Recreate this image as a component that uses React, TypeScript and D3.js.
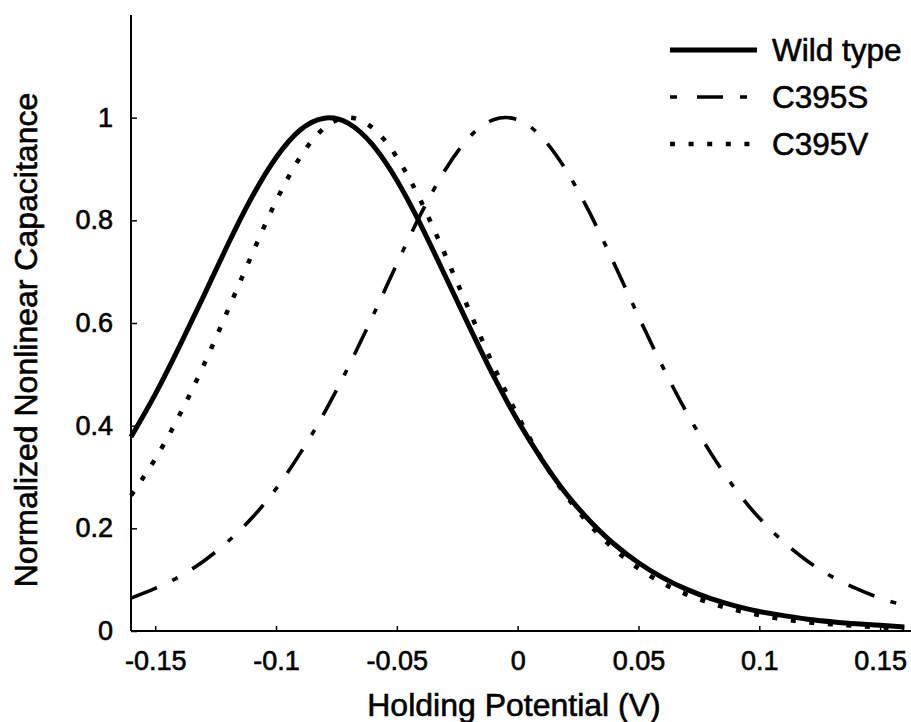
import React, { useEffect, useRef } from 'react';
import * as d3 from 'd3';

// holding potential (V), sampled every 10 mV
const potentials = [
  -0.16, -0.15, -0.14, -0.13, -0.12, -0.11, -0.1, -0.09, -0.08, -0.07, -0.06,
  -0.05, -0.04, -0.03, -0.02, -0.01, 0, 0.01, 0.02, 0.03, 0.04, 0.05, 0.06,
  0.07, 0.08, 0.09, 0.1, 0.11, 0.12, 0.13, 0.14, 0.15, 0.16,
];

const wildType = [
  0.378, 0.461, 0.554, 0.652, 0.752, 0.845, 0.922, 0.976, 0.999, 0.989, 0.947,
  0.878, 0.79, 0.692, 0.593, 0.497, 0.41, 0.334, 0.268, 0.214, 0.169, 0.133,
  0.104, 0.081, 0.063, 0.049, 0.038, 0.03, 0.023, 0.018, 0.014, 0.011, 0.008,
];

const c395s = [
  0.064, 0.083, 0.106, 0.136, 0.174, 0.22, 0.277, 0.346, 0.425, 0.515, 0.613,
  0.715, 0.813, 0.898, 0.962, 0.996, 0.996, 0.962, 0.898, 0.813, 0.715, 0.613,
  0.515, 0.425, 0.346, 0.277, 0.22, 0.174, 0.136, 0.106, 0.083, 0.064, 0.05,
];

const c395v = [
  0.264, 0.335, 0.42, 0.517, 0.624, 0.733, 0.837, 0.923, 0.98, 1.0, 0.98,
  0.923, 0.837, 0.733, 0.624, 0.517, 0.42, 0.335, 0.264, 0.206, 0.159, 0.122,
  0.093, 0.071, 0.054, 0.041, 0.031, 0.023, 0.017, 0.013, 0.01, 0.007, 0.006,
];

const seriesNames = ['Wild type', 'C395S', 'C395V'];
const xTicks = [-0.15, -0.1, -0.05, 0, 0.05, 0.1, 0.15];
const yTicks = [0, 0.2, 0.4, 0.6, 0.8, 1];

const FONT = "'Liberation Sans', Arial, Helvetica, sans-serif";

const App = () => {
  const ref = useRef<SVGSVGElement>(null);

  useEffect(() => {
    const svg = d3.select(ref.current);
    svg.selectAll('*').remove();

    const left = 131;
    const right = 904.3;
    const top = 15;
    const bottom = 631;

    const x = d3.scaleLinear().domain([-0.16, 0.16]).range([left, right]);
    const y = d3.scaleLinear().domain([0, 1.2]).range([bottom, top]);

    const styles = [
      { width: 5, dash: null },
      { width: 3.6, dash: '28,17,6,17' },
      { width: 4.5, dash: '5,13.6' },
    ];
    const values = [wildType, c395s, c395v];

    const line = d3
      .line<number>()
      .x((_, i) => x(potentials[i]))
      .y(d => y(d))
      .curve(d3.curveNatural);

    values.forEach((vals, i) => {
      const p = svg
        .append('path')
        .attr('d', line(vals))
        .attr('fill', 'none')
        .attr('stroke', '#000')
        .attr('stroke-width', styles[i].width);
      if (styles[i].dash) p.attr('stroke-dasharray', styles[i].dash);
    });

    // text looks a bit heavy in the scan
    const heavy = (sel: any, size: number) =>
      sel
        .attr('font-family', FONT)
        .attr('font-size', size)
        .attr('fill', '#000')
        .attr('stroke', '#000')
        .attr('stroke-width', 0.6);

    // x axis
    const gx = svg
      .append('g')
      .attr('transform', `translate(0,${bottom})`)
      .call(
        d3
          .axisBottom(x)
          .tickValues(xTicks)
          .tickSizeInner(-5)
          .tickSizeOuter(0)
          .tickPadding(20)
          .tickFormat(d => String(d))
      );
    gx.select('.domain').remove();
    gx.append('line')
      .attr('x1', left)
      .attr('x2', 911)
      .attr('stroke', '#000')
      .attr('stroke-width', 2);
    gx.selectAll('.tick line').attr('stroke-width', 1.5);
    heavy(gx.selectAll('text'), 27);

    // y axis
    const gy = svg
      .append('g')
      .attr('transform', `translate(${left},0)`)
      .call(
        d3
          .axisLeft(y)
          .tickValues(yTicks)
          .tickSizeInner(-6)
          .tickSizeOuter(0)
          .tickPadding(18)
          .tickFormat(d => String(d))
      );
    gy.select('.domain').remove();
    gy.append('line')
      .attr('y1', top)
      .attr('y2', bottom)
      .attr('stroke', '#000')
      .attr('stroke-width', 2);
    gy.selectAll('.tick line').attr('stroke-width', 1.5);
    heavy(gy.selectAll('text'), 27);

    // axis titles
    heavy(
      svg.append('text')
        .attr('x', 514)
        .attr('y', 716)
        .attr('text-anchor', 'middle')
        .text('Holding Potential (V)'),
      32
    );

    heavy(
      svg.append('text')
        .attr('transform', `translate(37,${(top + 665) / 2}) rotate(-90)`)
        .attr('text-anchor', 'middle')
        .text('Normalized Nonlinear Capacitance'),
      32
    );

    // legend
    const legend = svg.append('g').attr('transform', 'translate(670,50)');
    seriesNames.forEach((name, i) => {
      const row = legend.append('g').attr('transform', `translate(0,${i * 47})`);
      const l = row
        .append('line')
        .attr('x1', 0)
        .attr('x2', 87)
        .attr('stroke', '#000')
        .attr('stroke-width', styles[i].width);
      if (i === 1) l.attr('stroke-dasharray', '7,20,26,17');
      if (i === 2) l.attr('stroke-dasharray', styles[i].dash);
      heavy(
        row.append('text')
          .attr('x', 102)
          .attr('y', 11)
          .text(name),
        31.5
      );
    });
  }, []);

  return (
    <svg
      ref={ref}
      width={911}
      height={722}
      style={{ position: 'absolute', left: 0, top: 0, background: '#fff' }}
    />
  );
};

export default App;
